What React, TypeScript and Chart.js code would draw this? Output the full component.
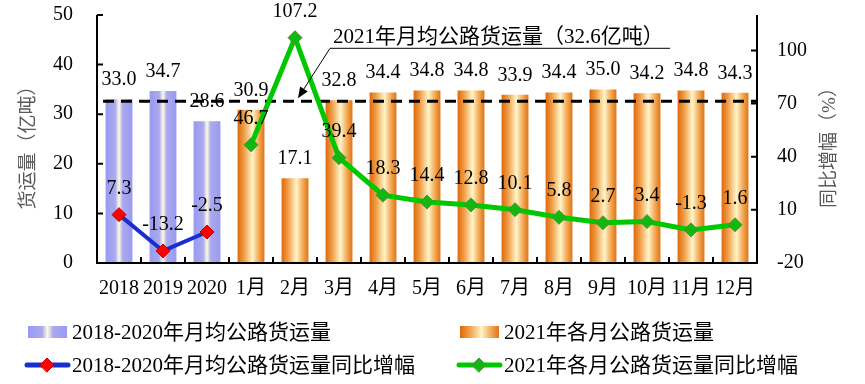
import { useEffect, useRef } from "react";
import { Chart, registerables } from "chart.js";

Chart.register(...registerables);

// ---------- data ----------
const categories = ["2018", "2019", "2020", "1月", "2月", "3月", "4月", "5月", "6月", "7月", "8月", "9月", "10月", "11月", "12月"];
const avgVolume = [33.0, 34.7, 28.6, null, null, null, null, null, null, null, null, null, null, null, null];
const monthlyVolume = [null, null, null, 30.9, 17.1, 32.8, 34.4, 34.8, 34.8, 33.9, 34.4, 35.0, 34.2, 34.8, 34.3];
const avgGrowth = [7.3, -13.2, -2.5, null, null, null, null, null, null, null, null, null, null, null, null];
const monthlyGrowth = [null, null, null, 46.7, 107.2, 39.4, 18.3, 14.4, 12.8, 10.1, 5.8, 2.7, 3.4, -1.3, 1.6];
const seriesLabels = [
  "2018-2020年月均公路货运量",
  "2021年各月公路货运量",
  "2018-2020年月均公路货运量同比增幅",
  "2021年各月公路货运量同比增幅",
];
const leftTicks = [0, 10, 20, 30, 40, 50];
const rightTicks = [-20, 10, 40, 70, 100];
const leftRange = [0, 50];
const rightRange = [-20, 120];
const averageValue = 32.6;
const annotationText = "2021年月均公路货运量（32.6亿吨）";
const annotationIndex = 4;
const leftTitle = "货运量（亿吨）";
const rightTitle = "同比增幅（%）";

// ---------- styles ----------
const FONT = "'Liberation Serif', 'Noto Sans CJK SC', serif";
const BAR_RATIO = 0.61;
const BLUE_STOPS: [number, string][] = [
  [0, "#9999f2"], [0.36, "#aaaaee"], [0.5, "#fffbe2"], [0.64, "#aaaaee"], [1, "#9999f2"],
];
const ORANGE_STOPS: [number, string][] = [
  [0, "#e0680a"], [0.25, "#f0a04a"], [0.55, "#fff4c8"], [0.8, "#f2a854"], [1, "#e27214"],
];

function makeGradient(ctx: CanvasRenderingContext2D, x0: number, x1: number, stops: [number, string][]) {
  const g = ctx.createLinearGradient(x0, 0, x1, 0);
  stops.forEach(([o, c]) => g.addColorStop(o, c));
  return g;
}

function barFill(stops: [number, string][]) {
  return (c: any) => {
    const chart = c.chart;
    const xs = chart.scales && chart.scales.x;
    if (!xs || c.type !== "data") return stops[0][1];
    const cx = xs.getPixelForValue(c.dataIndex);
    const w = (xs.width / categories.length) * BAR_RATIO;
    if (!isFinite(cx) || !isFinite(w) || w <= 0) return stops[0][1];
    return makeGradient(chart.ctx, cx - w / 2, cx + w / 2, stops);
  };
}

function drawDiamond(ctx: CanvasRenderingContext2D, x: number, y: number, r: number, fill: string, stroke: string) {
  ctx.beginPath();
  ctx.moveTo(x - r, y);
  ctx.lineTo(x, y - r);
  ctx.lineTo(x + r, y);
  ctx.lineTo(x, y + r);
  ctx.closePath();
  ctx.fillStyle = fill;
  ctx.fill();
  ctx.lineWidth = 1;
  ctx.strokeStyle = stroke;
  ctx.stroke();
}

const customPlugin = {
  id: "customDraw",
  afterDatasetDraw(chart: any, args: any) {
    if (args.index !== 0) return;
    const { ctx, chartArea } = chart;
    const y = chart.scales.y.getPixelForValue(averageValue);
    ctx.save();
    ctx.strokeStyle = "#000";
    ctx.lineWidth = 3;
    ctx.setLineDash([11, 7]);
    ctx.beginPath();
    ctx.moveTo(chartArea.left + 6, y);
    ctx.lineTo(chartArea.right, y);
    ctx.stroke();
    ctx.restore();
  },
  afterDatasetsDraw(chart: any) {
    const { ctx, chartArea } = chart;
    const { left, right, top, bottom } = chartArea;
    const ys = chart.scales.y;
    const y1s = chart.scales.y1;
    ctx.save();
    ctx.strokeStyle = "#000";
    ctx.lineWidth = 2;
    ctx.setLineDash([]);
    ctx.beginPath();
    ctx.moveTo(left, top);
    ctx.lineTo(left, bottom);
    ctx.lineTo(right, bottom);
    ctx.lineTo(right, top);
    ctx.stroke();
    ctx.beginPath();
    leftTicks.forEach((v) => {
      const y = ys.getPixelForValue(v);
      ctx.moveTo(left, y);
      ctx.lineTo(left + 6, y);
    });
    rightTicks.forEach((v) => {
      const y = y1s.getPixelForValue(v);
      ctx.moveTo(right, y);
      ctx.lineTo(right - 6, y);
    });
    const step = (right - left) / categories.length;
    for (let i = 1; i < categories.length; i++) {
      const x = left + i * step;
      ctx.moveTo(x, bottom);
      ctx.lineTo(x, bottom - 6);
    }
    ctx.stroke();

    ctx.fillStyle = "#000";
    ctx.font = `20px ${FONT}`;
    ctx.textAlign = "center";
    ctx.textBaseline = "alphabetic";
    chart.data.datasets.forEach((ds: any, di: number) => {
      const meta = chart.getDatasetMeta(di);
      ds.data.forEach((v: number | null, i: number) => {
        if (v === null || v === undefined) return;
        const el = meta.data[i];
        if (!el) return;
        const off = ds.type === "bar" ? 14 : 21;
        ctx.fillText(v.toFixed(1), el.x, el.y - off);
      });
    });
    ctx.restore();
  },
  afterDraw(chart: any) {
    const { ctx, chartArea } = chart;
    const xs = chart.scales.x;
    const ys = chart.scales.y;
    ctx.save();
    const tipX = xs.getPixelForValue(annotationIndex) + 3;
    const tipY = ys.getPixelForValue(averageValue) - 3;
    const elbowX = tipX + 32;
    const elbowY = tipY - 50;
    ctx.strokeStyle = "#000";
    ctx.lineWidth = 1;
    ctx.beginPath();
    ctx.moveTo(chartArea.left + 573, elbowY);
    ctx.lineTo(elbowX, elbowY);
    ctx.lineTo(tipX + 5, tipY - 8);
    ctx.stroke();
    const ang = Math.atan2(tipY - elbowY, tipX - elbowX);
    const len = 11, half = 4.5;
    ctx.beginPath();
    ctx.moveTo(tipX, tipY);
    ctx.lineTo(tipX - len * Math.cos(ang) + half * Math.sin(ang), tipY - len * Math.sin(ang) - half * Math.cos(ang));
    ctx.lineTo(tipX - len * Math.cos(ang) - half * Math.sin(ang), tipY - len * Math.sin(ang) + half * Math.cos(ang));
    ctx.closePath();
    ctx.fillStyle = "#000";
    ctx.fill();
    ctx.font = `21px ${FONT}`;
    ctx.textAlign = "left";
    ctx.textBaseline = "alphabetic";
    ctx.fillText(annotationText, elbowX + 3, elbowY - 5);

    ctx.fillStyle = "#595959";
    ctx.font = `19px ${FONT}`;
    ctx.textAlign = "center";
    ctx.textBaseline = "middle";
    const midY = (chartArea.top + chartArea.bottom) / 2 + 4;
    ctx.save();
    ctx.translate(29, midY);
    ctx.rotate(-Math.PI / 2);
    ctx.fillText(leftTitle, 0, 0);
    ctx.restore();
    ctx.save();
    ctx.translate(chartArea.right + 73, midY);
    ctx.rotate(-Math.PI / 2);
    ctx.fillText(rightTitle, 0, 0);
    ctx.restore();

    const cols = [28, 460];
    const rows = [332, 365];
    ctx.font = `21px ${FONT}`;
    ctx.textAlign = "left";
    ctx.textBaseline = "middle";
    chart.data.datasets.forEach((ds: any, di: number) => {
      const x = cols[di % 2];
      const y = rows[Math.floor(di / 2)];
      if (ds.type === "bar") {
        ctx.fillStyle = makeGradient(ctx, x, x + 39, ds.legendStops);
        ctx.fillRect(x, y - 6, 39, 12);
      } else {
        ctx.strokeStyle = ds.borderColor;
        ctx.lineWidth = 5;
        ctx.lineCap = "round";
        ctx.beginPath();
        ctx.moveTo(x - 1, y);
        ctx.lineTo(x + 40, y);
        ctx.stroke();
        drawDiamond(ctx, x + 19, y, 7, ds.pointBackgroundColor, ds.pointBorderColor);
      }
      ctx.fillStyle = "#000";
      ctx.fillText(ds.label, x + 44, y + 1);
    });
    ctx.restore();
  },
};

export default function App() {
  const canvasRef = useRef<HTMLCanvasElement | null>(null);

  useEffect(() => {
    if (!canvasRef.current) return;
    const tickFont = { family: FONT, size: 20 };
    const fixVertical = (w: number) => (s: any) => {
      s.width = w;
      s.paddingTop = 10;
      s.paddingBottom = 10;
    };
    const chart = new Chart(canvasRef.current, {
      type: "bar",
      data: {
        labels: categories,
        datasets: [
          {
            type: "bar",
            label: seriesLabels[0],
            data: avgVolume,
            yAxisID: "y",
            backgroundColor: barFill(BLUE_STOPS),
            legendStops: BLUE_STOPS,
            grouped: false,
            barPercentage: BAR_RATIO,
            categoryPercentage: 1,
            order: 2,
          } as any,
          {
            type: "bar",
            label: seriesLabels[1],
            data: monthlyVolume,
            yAxisID: "y",
            backgroundColor: barFill(ORANGE_STOPS),
            legendStops: ORANGE_STOPS,
            grouped: false,
            barPercentage: BAR_RATIO,
            categoryPercentage: 1,
            order: 2,
          } as any,
          {
            type: "line",
            label: seriesLabels[2],
            data: avgGrowth,
            yAxisID: "y1",
            borderColor: "#1a2ed0",
            borderWidth: 4,
            pointStyle: "rectRot",
            pointRadius: 7,
            pointBackgroundColor: "#ff0000",
            pointBorderColor: "#c00000",
            pointBorderWidth: 1,
            tension: 0,
            fill: false,
            order: 1,
          } as any,
          {
            type: "line",
            label: seriesLabels[3],
            data: monthlyGrowth,
            yAxisID: "y1",
            borderColor: "#00c800",
            borderWidth: 5,
            pointStyle: "rectRot",
            pointRadius: 7,
            pointBackgroundColor: "#10b810",
            pointBorderColor: "#5a8a3a",
            pointBorderWidth: 1,
            tension: 0,
            fill: false,
            order: 1,
          } as any,
        ],
      },
      options: {
        responsive: false,
        animation: false,
        devicePixelRatio: 1,
        layout: { padding: { top: 15, left: 0, right: 0, bottom: 0 } },
        plugins: {
          legend: { display: false },
          title: { display: false },
          tooltip: { enabled: false },
        },
        scales: {
          x: {
            grid: { display: false, drawTicks: false },
            border: { display: false },
            ticks: { font: tickFont, color: "#000", padding: 14, maxRotation: 0, autoSkip: false },
            afterFit: (s: any) => { s.height = 121; },
          },
          y: {
            position: "left",
            min: leftRange[0],
            max: leftRange[1],
            grid: { display: false, drawTicks: false },
            border: { display: false },
            ticks: { font: tickFont, color: "#000", padding: 24 },
            afterBuildTicks: (s: any) => { s.ticks = leftTicks.map((v) => ({ value: v })); },
            afterFit: fixVertical(97),
          },
          y1: {
            position: "right",
            min: rightRange[0],
            max: rightRange[1],
            grid: { display: false, drawTicks: false },
            border: { display: false },
            ticks: { font: tickFont, color: "#000", padding: 20 },
            afterBuildTicks: (s: any) => { s.ticks = rightTicks.map((v) => ({ value: v })); },
            afterFit: fixVertical(108),
          },
        },
      } as any,
      plugins: [customPlugin],
    });
    return () => chart.destroy();
  }, []);

  return (
    <div style={{ position: "absolute", left: 0, top: 0, width: 865, height: 384, background: "#fff" }}>
      <canvas ref={canvasRef} width={865} height={384} style={{ display: "block" }} />
    </div>
  );
}
